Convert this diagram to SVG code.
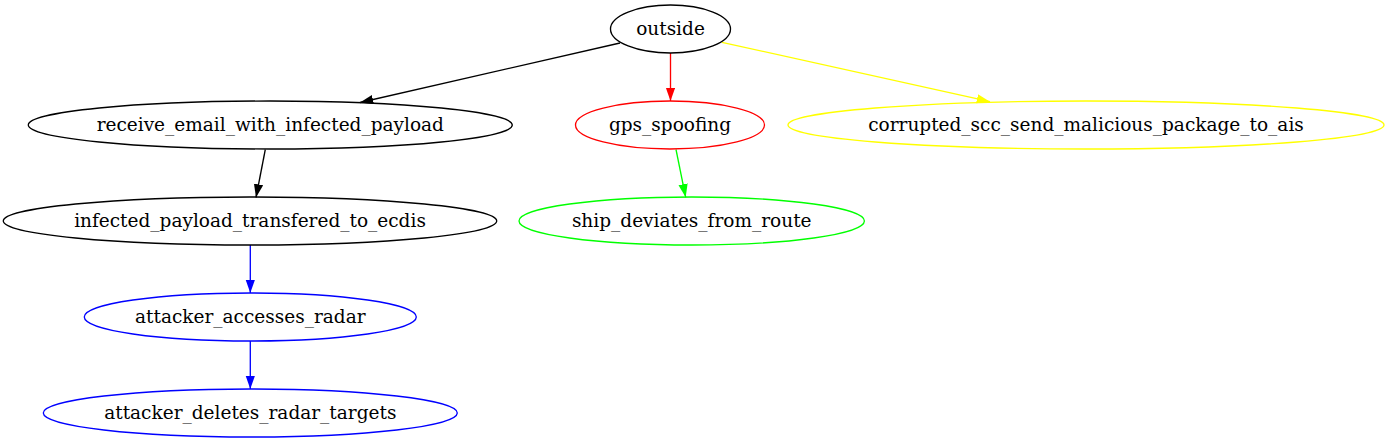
<svg xmlns="http://www.w3.org/2000/svg" width="1390" height="443" viewBox="0 0 1390 443">
<style>
.n{fill:none;stroke-width:1.33}
.t{font-family:"DejaVu Serif","Liberation Serif",serif;font-size:18.5px;text-anchor:middle;fill:#000}
.e{fill:none;stroke-width:1.33}
</style>
<defs>
<marker id="ak" markerUnits="userSpaceOnUse" markerWidth="14" markerHeight="10" refX="13.3" refY="4.67" orient="auto"><path d="M0,0L13.3,4.67L0,9.33z" fill="#000"/></marker>
<marker id="ar" markerUnits="userSpaceOnUse" markerWidth="14" markerHeight="10" refX="13.3" refY="4.67" orient="auto"><path d="M0,0L13.3,4.67L0,9.33z" fill="#ff0000"/></marker>
<marker id="ay" markerUnits="userSpaceOnUse" markerWidth="14" markerHeight="10" refX="13.3" refY="4.67" orient="auto"><path d="M0,0L13.3,4.67L0,9.33z" fill="#ffff00"/></marker>
<marker id="ag" markerUnits="userSpaceOnUse" markerWidth="14" markerHeight="10" refX="13.3" refY="4.67" orient="auto"><path d="M0,0L13.3,4.67L0,9.33z" fill="#00ff00"/></marker>
<marker id="ab" markerUnits="userSpaceOnUse" markerWidth="14" markerHeight="10" refX="13.3" refY="4.67" orient="auto"><path d="M0,0L13.3,4.67L0,9.33z" fill="#0000ff"/></marker>
</defs>
<rect width="1390" height="443" fill="#fff"/>
<g id="edges">
<path class="e" stroke="#000" d="M620,43L360,102.5" marker-end="url(#ak)"/>
<path class="e" stroke="#ff0000" d="M670.5,53L670.5,101" marker-end="url(#ar)"/>
<path class="e" stroke="#ffff00" d="M722,42.3L990,101.7" marker-end="url(#ay)"/>
<path class="e" stroke="#000" d="M265.3,149.5L256,197.5" marker-end="url(#ak)"/>
<path class="e" stroke="#00ff00" d="M676,149.5L685.7,197.3" marker-end="url(#ag)"/>
<path class="e" stroke="#0000ff" d="M250.3,245L250.3,293" marker-end="url(#ab)"/>
<path class="e" stroke="#0000ff" d="M250.3,341L250.3,389" marker-end="url(#ab)"/>
</g>
<g id="outside"><ellipse class="n" stroke="#000" cx="670.5" cy="29" rx="60" ry="24"/><text class="t" x="670.5" y="35">outside</text></g>
<g id="receive_email_with_infected_payload"><ellipse class="n" stroke="#000" cx="270.3" cy="125" rx="242" ry="24"/><text class="t" x="270.3" y="131">receive_email_with_infected_payload</text></g>
<g id="gps_spoofing"><ellipse class="n" stroke="#ff0000" cx="670" cy="125" rx="94.5" ry="24"/><text class="t" x="670" y="131">gps_spoofing</text></g>
<g id="corrupted_scc_send_malicious_package_to_ais"><ellipse class="n" stroke="#ffff00" cx="1086" cy="125" rx="298" ry="24"/><text class="t" x="1086" y="131">corrupted_scc_send_malicious_package_to_ais</text></g>
<g id="infected_payload_transfered_to_ecdis"><ellipse class="n" stroke="#000" cx="250" cy="221" rx="246.7" ry="24"/><text class="t" x="250" y="227">infected_payload_transfered_to_ecdis</text></g>
<g id="ship_deviates_from_route"><ellipse class="n" stroke="#00ff00" cx="691.7" cy="221" rx="172.7" ry="24"/><text class="t" x="691.7" y="227">ship_deviates_from_route</text></g>
<g id="attacker_accesses_radar"><ellipse class="n" stroke="#0000ff" cx="250.3" cy="317" rx="166" ry="24"/><text class="t" x="250.3" y="323">attacker_accesses_radar</text></g>
<g id="attacker_deletes_radar_targets"><ellipse class="n" stroke="#0000ff" cx="250.3" cy="413" rx="207" ry="24"/><text class="t" x="250.3" y="419">attacker_deletes_radar_targets</text></g>
</svg>
